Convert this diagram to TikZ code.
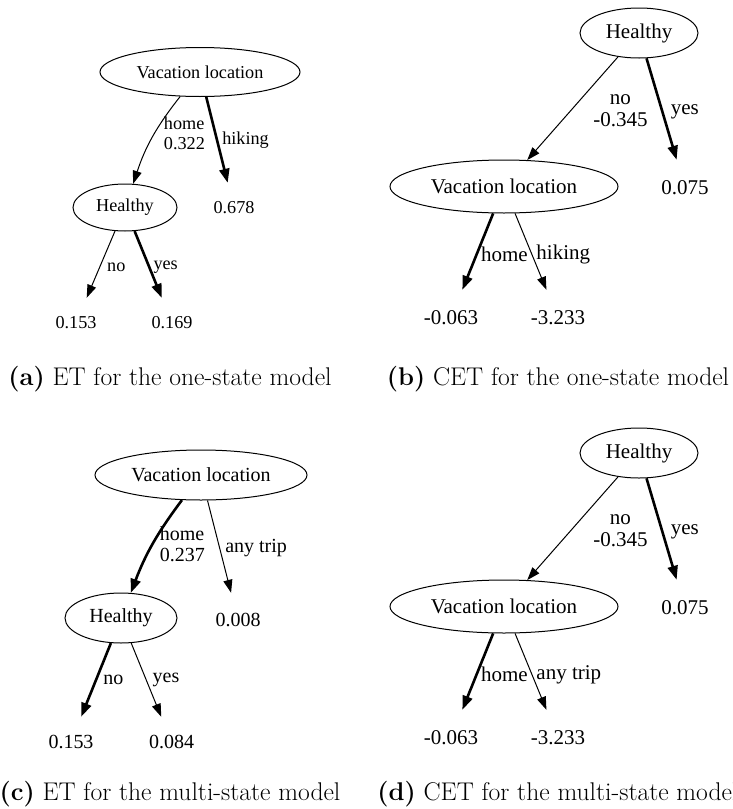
\documentclass[tikz,border=0pt]{standalone}
\usepackage{fontspec}
\usepackage{tikz}
\usetikzlibrary{positioning}
\usetikzlibrary{arrows.meta}
\usetikzlibrary{shapes.geometric}
\newfontfamily\treefont{Liberation Serif}
\newcommand{\fonta}{\treefont\fontsize{18.2}{20}\selectfont}
\newcommand{\fontb}{\treefont\fontsize{21}{22}\selectfont}
\newcommand{\fontc}{\treefont\fontsize{20}{21}\selectfont}
\newcommand{\capfont}{\fontsize{25.6}{30}\selectfont}

\tikzset{
	treenode/.style={draw, ellipse, line width=1pt, inner sep=0pt},
	leaf/.style={inner sep=0pt, minimum height=#1},
	lbl/.style={inner sep=1pt, align=left},
	thinedge/.style={line width=1pt, -{Triangle[length=13pt,width=9pt]}},
	thickedge/.style={line width=2.6pt, -{Triangle[length=14pt,width=10pt]}},
	subcap/.style={font=\capfont, anchor=base, inner sep=0pt}
}

\begin{document}
\begin{tikzpicture}[x=1pt,y=1pt]
	\fill[white] (0,0) rectangle (732,-809);
	\useasboundingbox (0,0) rectangle (732,-809);

	% (a) ET, one-state model
	\begin{scope}[font=\fonta]
		\node[treenode, minimum width=200pt, minimum height=49pt] (va) at (200,-72) {Vacation location};
		\node[treenode, minimum width=104pt, minimum height=47pt] (ha) at (125,-207.5) {Healthy};
		\node[leaf=50pt] (a678) at (234,-208) {0.678};
		\node[leaf=50pt] (a153) at (76,-323) {0.153};
		\node[leaf=50pt] (a169) at (172,-323) {0.169};
		\draw[thinedge] (va) to[bend right=10] node[lbl, pos=.45, right=8pt] {home\\0.322} (ha);
		\draw[thickedge] (va) -- node[lbl, pos=.5, right=3pt] {hiking} (a678);
		\draw[thinedge] (ha) -- node[lbl, pos=.54, right=6pt] {no} (a153);
		\draw[thickedge] (ha) -- node[lbl, pos=.54, right=2pt] {yes} (a169);
	\end{scope}

	% (b) CET, one-state model
	\begin{scope}[font=\fontb]
		\node[treenode, minimum width=118pt, minimum height=50pt] (hb) at (639,-33) {Healthy};
		\node[treenode, minimum width=228pt, minimum height=53pt] (vb) at (504,-186.5) {Vacation location};
		\node[leaf=56pt] (b075) at (685,-188) {0.075};
		\node[leaf=56pt] (b063) at (451,-318) {-0.063};
		\node[leaf=56pt] (b233) at (558,-318) {-3.233};
		\draw[thinedge] (hb) -- node[lbl, align=center, pos=.52, right=21pt] {no\\-0.345} (vb);
		\draw[thickedge] (hb) -- node[lbl, pos=.53, right=6pt] {yes} (b075);
		\draw[thickedge] (vb) -- node[lbl, pos=.53, right=2pt] {home} (b063);
		\draw[thinedge] (vb) -- node[lbl, pos=.54, right=3pt] {hiking} (b233);
	\end{scope}

	% (c) ET, multi-state model
	\begin{scope}[font=\fontc]
		\node[treenode, minimum width=212pt, minimum height=50pt] (vc) at (201,-475) {Vacation location};
		\node[treenode, minimum width=112pt, minimum height=50pt] (hc) at (121,-618) {Healthy};
		\node[leaf=54pt] (c008) at (238,-620) {0.008};
		\node[leaf=50pt] (c153) at (71,-742) {0.153};
		\node[leaf=50pt] (c084) at (171.5,-742) {0.084};
		\draw[thickedge] (vc) to[bend right=8] node[lbl, pos=.5, right=5pt] {home\\0.237} (hc);
		\draw[thinedge] (vc) -- node[lbl, pos=.52, right=4pt] {any trip} (c008);
		\draw[thickedge] (hc) -- node[lbl, pos=.5, right=5pt] {no} (c153);
		\draw[thinedge] (hc) -- node[lbl, pos=.5, right=5pt] {yes} (c084);
	\end{scope}

	% (d) CET, multi-state model
	\begin{scope}[font=\fontb]
		\node[treenode, minimum width=118pt, minimum height=50pt] (hd) at (639,-453) {Healthy};
		\node[treenode, minimum width=228pt, minimum height=53pt] (vd) at (504,-606.5) {Vacation location};
		\node[leaf=56pt] (d075) at (685,-608) {0.075};
		\node[leaf=56pt] (d063) at (451,-738) {-0.063};
		\node[leaf=56pt] (d233) at (558,-738) {-3.233};
		\draw[thinedge] (hd) -- node[lbl, align=center, pos=.52, right=21pt] {no\\-0.345} (vd);
		\draw[thickedge] (hd) -- node[lbl, pos=.53, right=6pt] {yes} (d075);
		\draw[thickedge] (vd) -- node[lbl, pos=.53, right=2pt] {home} (d063);
		\draw[thinedge] (vd) -- node[lbl, pos=.54, right=3pt] {any trip} (d233);
	\end{scope}

	% sub-captions
	\node[subcap] (capa) at (170,-385) {\textbf{(a)} ET for the one-state model};
	\node[subcap] (capb) at (558,-385) {\textbf{(b)} CET for the one-state model};
	\node[subcap] (capc) at (170,-800) {\textbf{(c)} ET for the multi-state model};
	\node[subcap] (capd) at (558,-800) {\textbf{(d)} CET for the multi-state model};
\end{tikzpicture}
\end{document}
